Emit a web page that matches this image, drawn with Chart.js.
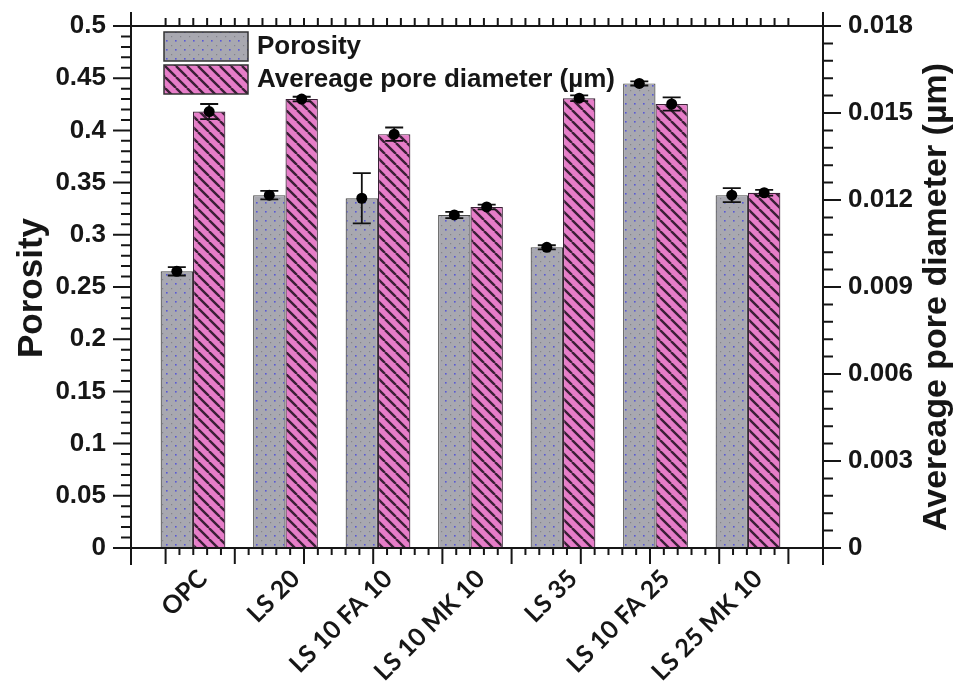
<!DOCTYPE html>
<html>
<head>
<meta charset="utf-8">
<script src="https://cdn.jsdelivr.net/npm/chart.js@4.4.1/dist/chart.umd.min.js"></script>
<style>
  html, body { margin: 0; padding: 0; background: #ffffff; }
  #wrap { width: 958px; height: 691px; position: relative; }
</style>
</head>
<body>
<div id="wrap"><canvas id="chart"></canvas></div>
<script>
// Mix designs along the x axis
const categories = ['OPC', 'LS 20', 'LS 10 FA 10', 'LS 10 MK 10', 'LS 35', 'LS 10 FA 25', 'LS 25 MK 10'];

// Porosity (left axis) and its error
const porosity    = [0.265, 0.338, 0.335, 0.319, 0.288, 0.445, 0.338];
const porosityErr = [0.004, 0.004, 0.024, 0.003, 0.002, 0.002, 0.0067];

// Average pore diameter in µm (right axis) and its error
const poreDiameter    = [0.01505, 0.01548, 0.01427, 0.01176, 0.01551, 0.01531, 0.01225];
const poreDiameterErr = [0.00026, 0.00008, 0.00023, 0.00008, 0.0001, 0.00023, 0.0001];

// Axis tick labels
const porosityTicks  = ['0', '0.05', '0.1', '0.15', '0.2', '0.25', '0.3', '0.35', '0.4', '0.45', '0.5'];
const diameterTicks  = ['0', '0.003', '0.006', '0.009', '0.012', '0.015', '0.018'];

const leftTitle  = 'Porosity';
const rightTitle = 'Avereage pore diameter (\u00b5m)';

const INK = '#161616';
const SANS = '"Liberation Sans", Arial, sans-serif';

// Fill patterns for the two series
function dottedPattern() {
  const c = document.createElement('canvas');
  c.width = 9; c.height = 9;
  const g = c.getContext('2d');
  g.fillStyle = '#a8a8b0';
  g.fillRect(0, 0, 9, 9);
  g.fillStyle = '#5858d4';
  g.fillRect(4, 4, 1.6, 1.6);
  g.fillStyle = '#84848c';
  g.fillRect(0, 0, 1.2, 1.2);
  return g.createPattern(c, 'repeat');
}
function hatchPattern() {
  const s = 11;
  const c = document.createElement('canvas');
  c.width = s; c.height = s;
  const g = c.getContext('2d');
  g.fillStyle = '#e67dc8';
  g.fillRect(0, 0, s, s);
  g.strokeStyle = '#3b1f36';
  g.lineWidth = 2.4;
  g.beginPath();
  for (let k = -1; k <= 1; k++) {
    g.moveTo(k * s, 0);
    g.lineTo(k * s + s, s);
  }
  g.stroke();
  return g.createPattern(c, 'repeat');
}

const grayFill = dottedPattern();
const pinkFill = hatchPattern();

// Error bars with a filled marker at each value
const errorBars = {
  id: 'errorBars',
  afterDatasetsDraw(chart) {
    const ctx = chart.ctx;
    chart.data.datasets.forEach((ds, di) => {
      const meta = chart.getDatasetMeta(di);
      const scale = chart.scales[ds.yAxisID];
      meta.data.forEach((bar, i) => {
        const v = ds.values[i], e = ds.errors[i];
        const yTop = scale.getPixelForValue(v + e);
        const yBot = scale.getPixelForValue(v - e);
        const yMid = scale.getPixelForValue(v);
        ctx.save();
        ctx.strokeStyle = '#111';
        ctx.lineWidth = 1.8;
        ctx.beginPath();
        ctx.moveTo(bar.x, yTop); ctx.lineTo(bar.x, yBot);
        ctx.moveTo(bar.x - 9, yTop); ctx.lineTo(bar.x + 9, yTop);
        ctx.moveTo(bar.x - 9, yBot); ctx.lineTo(bar.x + 9, yBot);
        ctx.stroke();
        ctx.fillStyle = '#000';
        ctx.beginPath();
        ctx.arc(bar.x, yMid, 5.5, 0, Math.PI * 2);
        ctx.fill();
        ctx.restore();
      });
    });
  }
};

// Box frame, outward tick marks, axis titles and the legend
const frame = {
  id: 'frame',
  afterDraw(chart) {
    const { ctx, chartArea: a, scales } = chart;
    const y = scales.y, y1 = scales.y1, xt = scales.xt;
    const top = y.getPixelForValue(0.5);
    ctx.save();
    ctx.setTransform(1, 0, 0, 1, 0, 0);
    ctx.strokeStyle = INK;
    ctx.lineWidth = 2;

    ctx.beginPath();
    ctx.moveTo(a.left, top - 14);  ctx.lineTo(a.left, a.bottom + 17);
    ctx.moveTo(a.right, top - 14); ctx.lineTo(a.right, a.bottom + 17);
    ctx.moveTo(a.left, a.bottom); ctx.lineTo(a.right, a.bottom);
    // left axis: major every 0.05, minor every 0.01
    for (let k = 0; k <= 50; k++) {
      const p = y.getPixelForValue(k / 100);
      const len = k % 5 === 0 ? 18 : 10;
      ctx.moveTo(a.left - len, p); ctx.lineTo(a.left, p);
    }
    // right axis: major every 0.003, minor every 0.0006
    for (let k = 0; k <= 30; k++) {
      const p = y1.getPixelForValue(k * 0.0006);
      const len = k % 5 === 0 ? 18 : 10;
      ctx.moveTo(a.right, p); ctx.lineTo(a.right + len, p);
    }
    // bottom ticks
    for (let k = 0; k <= 45; k++) {
      const p = xt.getPixelForValue(k / 5);
      const len = k % 5 === 0 ? 16 : 7;
      ctx.moveTo(p, a.bottom); ctx.lineTo(p, a.bottom + len);
    }
    ctx.stroke();

    // axis titles
    ctx.fillStyle = INK;
    ctx.textAlign = 'center';
    ctx.textBaseline = 'middle';
    ctx.font = 'bold 35px ' + SANS;
    ctx.save();
    ctx.translate(32, 288);
    ctx.rotate(-Math.PI / 2);
    ctx.fillText(leftTitle, 0, 0);
    ctx.restore();
    ctx.font = 'bold 34px ' + SANS;
    ctx.save();
    ctx.translate(937, 297);
    ctx.rotate(-Math.PI / 2);
    ctx.fillText(rightTitle, 0, 0);
    ctx.restore();

    // legend
    ctx.font = 'bold 26px ' + SANS;
    ctx.textAlign = 'left';
    chart.data.datasets.forEach((ds, i) => {
      const boxTop = 32 + i * 33;
      ctx.fillStyle = ds.backgroundColor;
      ctx.fillRect(164, boxTop, 84, 29);
      ctx.strokeStyle = '#333';
      ctx.lineWidth = 1.5;
      ctx.strokeRect(164, boxTop, 84, 29);
      ctx.fillStyle = INK;
      ctx.fillText(ds.label, 257, boxTop + 15);
    });

    // top edge of the frame and its upward ticks (solid fills)
    ctx.fillStyle = INK;
    ctx.fillRect(a.left - 1, top - 1, a.right - a.left + 2, 2);
    for (let k = 0; k <= 45; k++) {
      const p = xt.getPixelForValue(k / 5);
      ctx.fillRect(p - 1, top - 8, 2, 8);
    }
    ctx.restore();
  }
};

const toPoints = vals => vals.map((v, i) => ({ x: i + 1, y: v }));

// vertical axes: fixed width, no extra room reserved above/below for labels
const fixWidth = w => s => { s.width = w; s.paddingTop = 0; s.paddingBottom = 0; };

new Chart(document.getElementById('chart'), {
  type: 'bar',
  data: {
    datasets: [
      {
        label: 'Porosity',
        data: toPoints(porosity),
        values: porosity,
        errors: porosityErr,
        yAxisID: 'y',
        backgroundColor: grayFill,
        borderColor: '#4a4a4a',
        borderWidth: 1.2,
        categoryPercentage: 0.7,
        barPercentage: 1.0
      },
      {
        label: 'Avereage pore diameter (\u00b5m)',
        data: toPoints(poreDiameter),
        values: poreDiameter,
        errors: poreDiameterErr,
        yAxisID: 'y1',
        backgroundColor: pinkFill,
        borderColor: '#3b1f36',
        borderWidth: 1.2,
        categoryPercentage: 0.7,
        barPercentage: 1.0
      }
    ]
  },
  options: {
    responsive: true,
    maintainAspectRatio: false,
    animation: false,
    layout: { padding: { top: 26, left: 0, right: 0, bottom: 0 } },
    plugins: { legend: { display: false }, tooltip: { enabled: false } },
    scales: {
      x: {
        type: 'linear',
        position: 'bottom',
        min: 0.3297,
        max: 7.811,
        offset: false,
        grid: { display: false },
        border: { display: false },
        afterBuildTicks: s => { s.ticks = categories.map((_, i) => ({ value: i + 1 })); },
        afterFit: s => { s.height = 143; },
        ticks: {
          autoSkip: false,
          minRotation: 45,
          maxRotation: 45,
          padding: 8,
          labelOffset: 10,
          color: INK,
          font: { family: 'Lato', weight: 'bold', size: 25 },
          callback: v => categories[Math.round(v) - 1]
        }
      },
      xt: {
        type: 'linear',
        axis: 'x',
        position: 'bottom',
        display: false,
        min: 0,
        max: 9
      },
      y: {
        type: 'linear',
        position: 'left',
        min: 0,
        max: 0.5,
        grid: { display: false, drawTicks: false },
        border: { display: false },
        afterBuildTicks: s => { s.ticks = porosityTicks.map(t => ({ value: parseFloat(t) })); },
        afterFit: fixWidth(131),
        ticks: {
          padding: 25,
          color: INK,
          font: { family: SANS, weight: 'bold', size: 26 },
          callback: (v, i) => porosityTicks[i]
        }
      },
      y1: {
        type: 'linear',
        position: 'right',
        min: 0,
        max: 0.018,
        grid: { display: false, drawTicks: false },
        border: { display: false },
        afterBuildTicks: s => { s.ticks = diameterTicks.map(t => ({ value: parseFloat(t) })); },
        afterFit: fixWidth(135),
        ticks: {
          padding: 25,
          color: INK,
          font: { family: SANS, weight: 'bold', size: 26 },
          callback: (v, i) => diameterTicks[i]
        }
      }
    }
  },
  plugins: [errorBars, frame]
});
</script>
</body>
</html>
